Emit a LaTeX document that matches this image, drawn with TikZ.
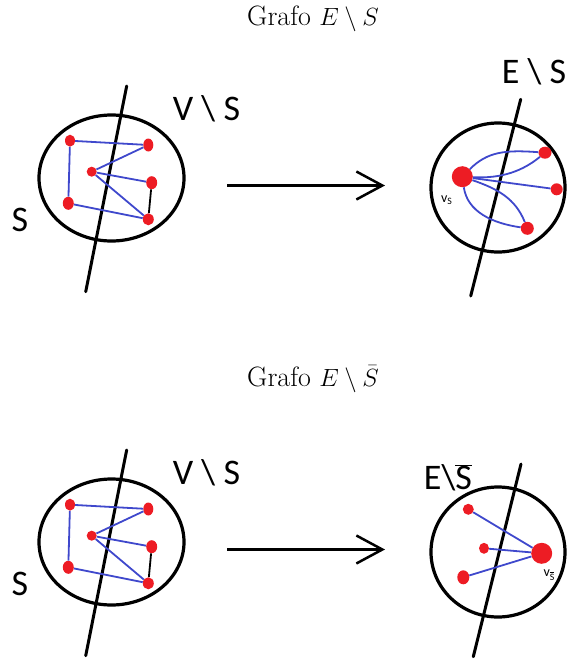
\documentclass[tikz,border=0pt]{standalone}
\usepackage{fontspec}
\newfontfamily\paintfont{Carlito}
\usetikzlibrary{arrows.meta, shapes.geometric}
\definecolor{cred}{RGB}{237,28,36}
\definecolor{cblue}{RGB}{63,72,204}
\tikzset{
  every picture/.style={x=1pt, y=-1pt},
  vdot/.style={ellipse, fill=cred, inner sep=0pt, minimum width=10pt, minimum height=12pt},
  bigdot/.style={circle, fill=cred, inner sep=0pt, minimum size=21pt},
  link/.style={draw=cblue, line width=1.8pt},
  region/.style={draw, line width=3.2pt},
  cutline/.style={draw, line width=3pt, line cap=round},
  setname/.style={font=\paintfont\fontsize{36}{36}\selectfont, inner sep=0pt},
  tiny/.style={font=\paintfont\fontsize{14}{14}\selectfont, inner sep=0pt},
  title/.style={font=\fontsize{28}{32}\selectfont, inner sep=0pt},
  arrow/.style={-{Straight Barb[length=26pt, width=28pt]}, line width=2.5pt},
}

\begin{document}
\begin{tikzpicture}
  \useasboundingbox (0,0) rectangle (569,659);
  % titles
  \node[title] (t1) at (313,19) {Grafo $E \setminus S$};
  \node[title] (t2) at (313,379) {Grafo $E \setminus \bar{S}$};
  % the graph with the cut, twice
  \foreach \yy in {0,364} {
    \begin{scope}[shift={(0,\yy)}]
      \draw[region] (111.5,178) ellipse [x radius=72.5, y radius=63];
      \draw[cutline] (126.7,86) -- (85.7,291.7);
      \node[setname] (vs\yy) at (206.5,109) {V \textbackslash{} S};
      \node[setname] (s\yy) at (20,220) {S};
      \node[vdot] (a\yy) at (70,140.7) {};
      \node[vdot, minimum height=13pt] (b\yy) at (148.3,145) {};
      \node[vdot, minimum height=10pt] (c\yy) at (91.7,171.7) {};
      \node[vdot, minimum width=11pt, minimum height=13pt] (d\yy) at (151.7,182.7) {};
      \node[vdot, minimum width=11pt, minimum height=13pt] (e\yy) at (68.3,203.3) {};
      \node[vdot, minimum width=11pt] (f\yy) at (148.3,219.3) {};
      \foreach \p/\q in {a/b, a/e, c/b, c/d, c/f, e/f} \draw[link] (\p\yy) -- (\q\yy);
      \draw[line width=1.8pt] (d\yy) -- (f\yy);
      \coordinate (from\yy) at (227,185.5);
      \coordinate (to\yy) at (385,185.5);
      \draw[arrow] (from\yy) -- (to\yy);
    \end{scope}
  }
  % (top) contracted S
  \draw[region] (498,187.5) ellipse [x radius=67, y radius=64.5];
  \draw[cutline] (520.7,99.3) -- (470.7,296);
  \node[setname] (es) at (534,72) {E \textbackslash{} S};
  \node[bigdot] (vsA) at (462.3,176.7) {};
  \node[vdot, minimum width=13pt] (ua) at (545,152.7) {};
  \node[vdot, minimum width=12pt] (ub) at (556.7,189.3) {};
  \node[vdot, minimum width=13pt, minimum height=13pt] (uc) at (527.3,228.3) {};
  \node[tiny] (lvA) at (446.7,200) {v\textsubscript{S}};
  \draw[link] (vsA) .. controls +(25,-25) and +(-40,-3) .. (ua);
  \draw[link] (vsA) .. controls +(40,2) and +(-22,18) .. (ua);
  \draw[link] (vsA) -- (ub);
  \draw[link] (vsA) .. controls +(35,12) and +(-12,-30) .. (uc);
  \draw[link] (vsA) .. controls +(5,35) and +(-35,-5) .. (uc);
  % (bottom) contracted complement
  \draw[region] (498,552) ellipse [x radius=67, y radius=65];
  \draw[cutline] (521,464) -- (473.3,656.7);
  \node[setname] (esb) at (448,478) {E\textbackslash$\overline{\mbox{S}}$};
  \node[bigdot] (vsB) at (541.7,553.3) {};
  \node[vdot, minimum width=11pt, minimum height=11pt] (wa) at (468.3,509.3) {};
  \node[vdot, minimum height=11pt] (wb) at (484,548.3) {};
  \node[vdot, minimum width=12pt, minimum height=14pt] (wc) at (463.3,577.3) {};
  \node[tiny] (lvB) at (549.3,575) {v\textsubscript{$\overline{\mbox{S}}$}};
  \foreach \p in {wa, wb, wc} \draw[link] (\p) -- (vsB);
\end{tikzpicture}
\end{document}
